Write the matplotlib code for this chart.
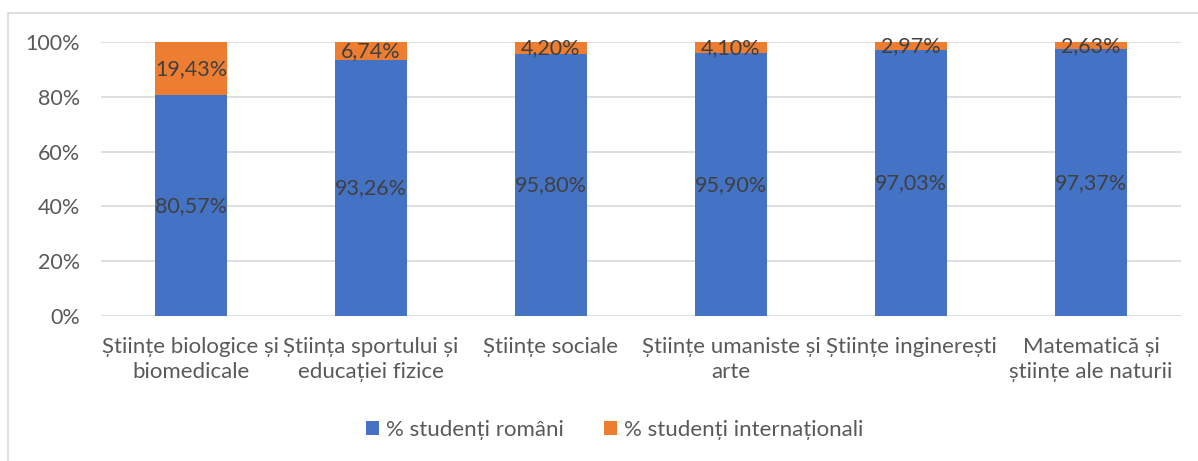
import matplotlib.pyplot as plt
from matplotlib.patches import Rectangle

categories = ["Științe biologice și\nbiomedicale", "Știința sportului și\neducației fizice",
              "Științe sociale", "Științe umaniste și\narte", "Științe inginerești",
              "Matematică și\nștiințe ale naturii"]
romani = [80.57, 93.26, 95.80, 95.90, 97.03, 97.37]
internationali = [19.43, 6.74, 4.20, 4.10, 2.97, 2.63]
series_names = ["% studenți români", "% studenți internaționali"]
yticks = [0, 20, 40, 60, 80, 100]

plt.rcParams['font.family'] = ['Lato', 'DejaVu Sans']
blue = "#4472C4"
orange = "#ED7D31"
txt = "#595959"

fig = plt.figure(figsize=(11.98, 4.61), dpi=100)
ax = fig.add_axes([0.0843, 0.3145, 0.9015, 0.5944])
x = range(len(categories))
b1 = ax.bar(x, romani, width=0.405, color=blue, label=series_names[0], zorder=3)
b2 = ax.bar(x, internationali, width=0.405, bottom=romani, color=orange, label=series_names[1], zorder=3)

def fmt(v):
    return f"{v:.2f}%".replace(".", ",")

for i in x:
    ax.text(i, romani[i] / 2, fmt(romani[i]), ha='center', va='center', fontsize=15.5, color="#404040", zorder=4)
    ax.text(i, romani[i] + internationali[i] / 2, fmt(internationali[i]), ha='center', va='center', fontsize=15.5, color="#404040", zorder=4)

ax.set_xlim(-0.5, len(categories) - 0.5)
ax.set_ylim(0, 100)
ax.set_yticks(yticks)
ax.set_yticklabels([f"{t}%" for t in yticks], fontsize=15.5, color=txt)
ax.set_xticks(list(x))
ax.set_xticklabels(categories, fontsize=16, color=txt, linespacing=1.35)
ax.tick_params(length=0)
ax.tick_params(axis='x', pad=15)
ax.tick_params(axis='y', pad=15)
ax.grid(axis='y', color="#D9D9D9", linewidth=1.2, zorder=0)
for s in ax.spines.values():
    s.set_visible(False)

fig.legend(handles=[b1, b2], loc='center', bbox_to_anchor=(0.513, 0.067), ncol=2, frameon=False,
           fontsize=16, labelcolor=txt, handlelength=0.6, handleheight=0.6, handletextpad=0.3,
           columnspacing=1.8)

fig.patches.append(Rectangle((8 / 1198, -0.1), 1.2, (461 - 13) / 461 + 0.1, transform=fig.transFigure,
                             fill=False, edgecolor="#D9D9D9", linewidth=1.2))

fig.savefig("out.png", dpi=100)
